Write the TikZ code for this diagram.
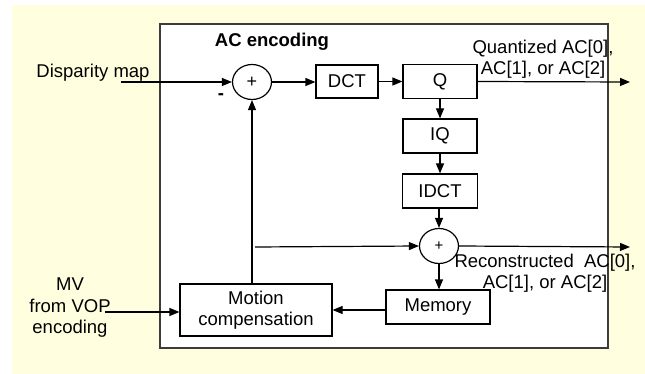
\documentclass[tikz,border=0pt]{standalone}
\usepackage{fontspec}
\setmainfont{Liberation Sans}
\usetikzlibrary{arrows.meta,shapes.geometric}
\definecolor{bgyellow}{RGB}{255,255,224}
\definecolor{framecol}{RGB}{60,60,60}
\begin{document}
\begin{tikzpicture}[x=1pt,y=-1pt,
  font=\fontsize{18.5}{21.5}\selectfont,
  box/.style={draw,line width=1.2pt,inner sep=0pt,align=center},
  sumnode/.style={draw,ellipse,line width=1.2pt,minimum width=39pt,minimum height=35pt,inner sep=0pt,font=\fontsize{18}{20}\selectfont},
  arr/.style={-{Triangle[length=10pt,width=8pt]},line width=1.2pt},
  lbl/.style={align=center,inner sep=0pt}]
\useasboundingbox (0,0) rectangle (645,374);
\fill[bgyellow] (12,5) rectangle (645,374);
\draw[framecol,line width=1.7pt,fill=white] (160,24) rectangle (608,348);

\node[font=\bfseries\fontsize{18.5}{21.5}\selectfont,anchor=base,inner sep=0pt] (title) at (272,47) {AC encoding};
\node[sumnode] (s1) at (252,82) {+};
\node[box,minimum width=62pt,minimum height=33pt] (dct) at (347,81.5) {DCT};
\node[box,minimum width=74pt,minimum height=34pt] (q) at (440,81.5) {Q};
\node[box,minimum width=74pt,minimum height=34pt] (iq) at (440,136) {IQ};
\node[box,minimum width=75pt,minimum height=34pt] (idct) at (440,191) {IDCT};
\node[sumnode,font=\fontsize{15}{18}\selectfont] (s2) at (439,246) {+};
\node[box,minimum width=104pt,minimum height=34pt] (mem) at (438,307) {Memory};
\node[box,minimum width=152pt,minimum height=52pt] (mc) at (256,310) {Motion\\compensation};

\node[lbl,anchor=base] (disp) at (93,78) {Disparity map};
\node[lbl] (quant) at (543,59) {Quantized AC[0],\\AC[1], or AC[2]};
\node[lbl] (recon) at (545,273) {Reconstructed\ \ AC[0],\\AC[1], or AC[2]};
\node[lbl] (mv) at (70,308) {MV\\from VOP\\encoding};
\node[inner sep=0pt,font=\bfseries\fontsize{18.5}{21.5}\selectfont] (minus) at (221,97) {-};

\coordinate (din) at (121,82);
\coordinate (qout) at (630,82);
\coordinate (rout) at (630,247);
\coordinate (fb) at (255,247);
\coordinate (mvin) at (105,312);

\draw[arr] (din) -- (s1.west);
\draw[arr] (s1.east) -- (s1.east -| dct.west);
\draw[arr] (dct.east) -- (q.west);
\draw[arr] (q.east) -- (qout);
\draw[arr] (q) -- (iq);
\draw[arr] (iq) -- (idct);
\draw[arr] (s2.north |- idct.south) -- (s2.north);
\draw[arr] (s2.south) -- (s2.south |- mem.north);
\draw[arr] (mem.west |- mc.east) -- (mc.east);
\draw[arr] (mvin) -- (mvin -| mc.west);
\draw[arr] (s1.south |- mc.north) -- (s1.south);
\draw[arr] (fb) -- (s2.west);
\draw[arr] (s2.east) -- (rout);
\end{tikzpicture}
\end{document}
